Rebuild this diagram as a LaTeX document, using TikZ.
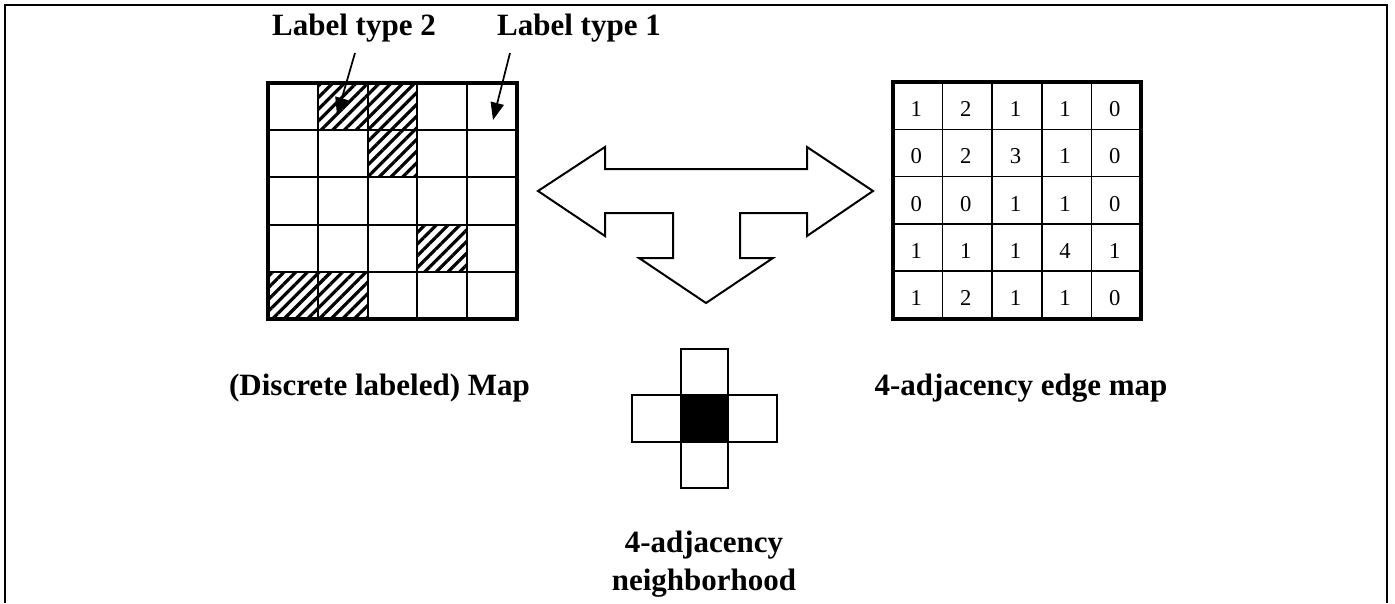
\documentclass[tikz,border=0pt]{standalone}
\usepackage{fontspec}
\setmainfont{Liberation Serif}
\usetikzlibrary{arrows.meta,patterns.meta}

\tikzset{
  lbl/.style={font=\fontsize{23.25pt}{28.5pt}\selectfont\bfseries, inner sep=0pt},
  num/.style={font=\fontsize{17pt}{18pt}\selectfont, inner sep=0pt},
  hatch/.style={pattern={Lines[angle=45,distance=6.2pt,line width=2.4pt]}},
  ptr/.style={line width=1.3pt, -{Triangle[length=13pt,width=10pt]}},
  cell/.style={line width=1.5pt},
}

\begin{document}
\begin{tikzpicture}[x=0.75pt, y=-0.75pt]
    \useasboundingbox (0,0) rectangle (1395,603);

    % frame
    \draw[line width=1.6pt] (5,603) -- (5,5) -- (216,5);
    \draw[line width=0.8pt] (216,5) -- (1175,5);
    \draw[line width=1.6pt] (1175,5) -- (1387,5) -- (1387,603);

    % labeled map
    \foreach \c/\r in {1/0,2/0,2/1,3/3,0/4,1/4}
      \fill[hatch] (268+\c*49.8,83+\r*47.2) rectangle ++(49.8,47.2);
    \foreach \i in {1,...,4} {
      \draw[cell] (268+\i*49.8,83) -- ++(0,236);
      \draw[cell] (268,83+\i*47.2) -- ++(249,0);
    }
    \draw[line width=3pt] (268,83) rectangle (517,319);

    \node[lbl, anchor=base] at (354,35) (lab2) {Label type 2};
    \node[lbl, anchor=base] at (579,35) (lab1) {Label type 1};
    \coordinate (from2) at (355,53);
    \coordinate (tip2) at (337,115);
    \coordinate (from1) at (510,53);
    \coordinate (tip1) at (493,120);
    \draw[ptr] (from2) -- (tip2);
    \draw[ptr] (from1) -- (tip1);

    \node[lbl, anchor=base] at (379.5,395) (maptitle) {(Discrete labeled) Map};

    % edge map
    \foreach \i in {1,...,4} {
      \draw[line width=1.2pt] (893+\i*49.6,82) -- ++(0,236.5);
      \draw[line width=1.2pt] (893,82+\i*47.3) -- ++(248,0);
    }
    \draw[line width=3pt] (893,82) rectangle (1141,318.5);
    \foreach \row [count=\r] in {{1,2,1,1,0},{0,2,3,1,0},{0,0,1,1,0},{1,1,1,4,1},{1,2,1,1,0}}
      \foreach \v [count=\c] in \row
        \node[num] at (893+\c*49.6-26.3,82+\r*47.3-20.2) (e-\r-\c) {\v};

    \node[lbl, anchor=base] at (1021,395) (edgetitle) {4-adjacency edge map};

    % three-way arrow
    \draw[line width=1.5pt, fill=white] (538,191) -- (605,147) -- (605,169) -- (807,169)
      -- (807,147) -- (873,191) -- (807,236) -- (807,213) -- (740,213) -- (740,258)
      -- (773,258) -- (706,303) -- (639,258) -- (673,258) -- (673,213) -- (605,213)
      -- (605,236) -- cycle;

    % neighborhood
    \fill (681,395) rectangle (728,442);
    \draw[cell] (681,349) rectangle (728,395);
    \draw[cell] (632,395) rectangle (681,442);
    \draw[cell] (681,395) rectangle (728,442);
    \draw[cell] (728,395) rectangle (777,442);
    \draw[cell] (681,442) rectangle (728,488);

    \node[lbl, align=center, anchor=base] at (704,590) (nbtitle) {4-adjacency\\neighborhood};

  \end{tikzpicture}
\end{document}
